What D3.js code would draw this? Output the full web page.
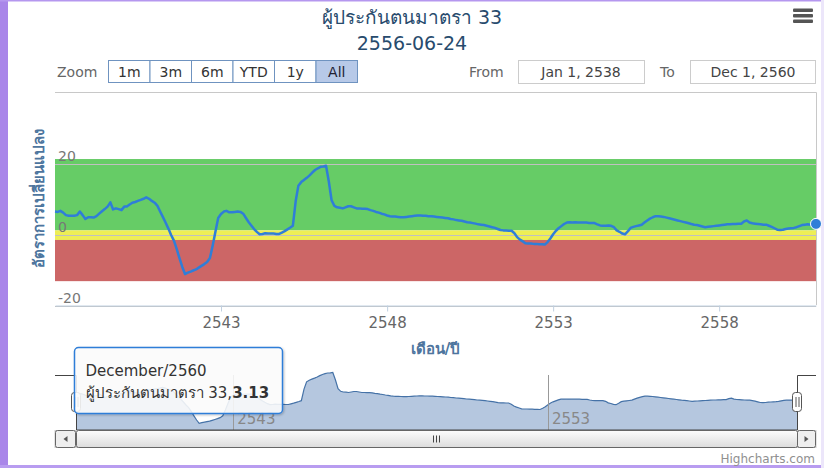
<!DOCTYPE html>
<html>
<head>
<meta charset="utf-8">
<script src="https://cdn.jsdelivr.net/npm/d3@7"></script>
<style>
  body { margin: 0; background: #fff; }
  svg { display: block; font-family: Tahoma, "Lucida Grande", "DejaVu Sans", sans-serif; }
  .xaxis text { font-size: 15px; fill: #666; }
</style>
</head>
<body>
<div id="chart"></div>
<script>
// monthly values, Jan 2538 .. Dec 2560 (Buddhist era)
var startYear = 2538;
var values = [
  6.6, 6.5, 6.8, 6.3, 5.6, 5.4, 5.4, 5.4, 5.6, 6.6, 5.6, 4.5,
  5.0, 5.0, 4.9, 5.3, 6.0, 6.7, 7.3, 8.0, 9.2, 7.2, 7.5, 7.3,
  7.0, 8.0, 8.0, 8.6, 9.1, 9.3, 9.6, 9.9, 10.2, 10.6, 10.2, 9.6,
  9.1, 8.2, 6.7, 5.1, 3.5, 1.8, 0.0, -1.6, -4.0, -6.5, -9.0, -11.0,
  -10.6, -10.3, -10.0, -9.7, -9.2, -8.7, -8.2, -7.6, -6.5, -3.0, 1.0, 4.8,
  5.9, 6.6, 6.8, 6.4, 6.4, 6.5, 6.6, 6.5, 6.0, 4.8, 3.6, 2.6,
  1.6, 0.8, 0.2, 0.3, 0.5, 0.4, 0.4, 0.4, 0.3, 0.3, 0.7, 1.1,
  1.6, 2.1, 2.6, 9.5, 13.9, 14.9, 15.5, 16.1, 16.8, 17.6, 18.3, 18.8,
  19.2, 19.3, 19.5, 15.0, 9.8, 8.2, 7.8, 7.7, 7.5, 7.8, 8.1, 8.1,
  7.8, 7.5, 7.5, 7.4, 7.4, 7.3, 7.0, 6.8, 6.5, 6.3, 6.0, 5.8,
  5.5, 5.3, 5.2, 5.2, 5.1, 5.0, 5.0, 5.1, 5.2, 5.3, 5.4, 5.5,
  5.5, 5.4, 5.4, 5.3, 5.3, 5.2, 5.1, 5.0, 4.9, 4.8, 4.7, 4.5,
  4.4, 4.2, 4.1, 4.0, 3.8, 3.6, 3.5, 3.35, 3.2, 3.0, 2.9, 2.8,
  2.6, 2.4, 2.2, 2.0, 1.7, 1.4, 1.3, 1.3, 1.2, 1.2, 0.5, -0.6,
  -1.3, -1.8, -2.3, -2.4, -2.4, -2.5, -2.5, -2.6, -2.6, -2.7, -2.0, -1.0,
  0.2, 1.2, 1.9, 2.5, 3.1, 3.5, 3.6, 3.5, 3.6, 3.5, 3.5, 3.5,
  3.5, 3.4, 3.4, 3.35, 3.0, 2.7, 2.6, 2.6, 2.7, 2.6, 2.2, 1.3,
  0.9, 0.4, 0.2, 1.0, 2.0, 2.3, 2.5, 2.7, 2.9, 3.5, 4.1, 4.6,
  5.0, 5.3, 5.3, 5.2, 5.1, 4.9, 4.7, 4.5, 4.3, 4.1, 3.9, 3.7,
  3.5, 3.3, 3.1, 2.9, 2.8, 2.6, 2.4, 2.2, 2.3, 2.4, 2.5, 2.6,
  2.7, 2.8, 2.9, 3.0, 3.0, 3.1, 3.1, 3.2, 3.2, 3.8, 4.1, 3.5,
  3.3, 3.2, 3.1, 3.0, 2.9, 2.9, 2.6, 2.3, 1.9, 1.5, 1.4, 1.5,
  1.7, 1.8, 1.9, 2.0, 2.2, 2.5, 2.8, 2.9, 3.0, 2.9, 3.0, 3.13
];
var yTicks = [-20, 0, 20];
var xTickYears = [2543, 2548, 2553, 2558];
var navTickYears = [2543, 2553];
var bandFrom = [1.3, -1.4, -13];
var bandTo = [21.4, 1.3, -1.4];
var bandColors = ["#66cc66", "#eeee55", "#cc6666"];
var zoomButtons = ["1m", "3m", "6m", "YTD", "1y", "All"];
var monthNames = ["January","February","March","April","May","June","July",
                  "August","September","October","November","December"];

var titleText = "ผู้ประกันตนมาตรา 33";
var subtitleText = "2556-06-24";
var yTitle = "อัตราการเปลี่ยนแปลง";
var xTitle = "เดือน/ปี";

// BE -> Gregorian date
function beDate(y, m) { return new Date(y - 543, m, 1); }

var data = values.map(function(v, i) {
  return { date: beDate(startYear + Math.floor(i / 12), i % 12), month: i % 12,
           year: startYear + Math.floor(i / 12), value: v };
});
var last = data[data.length - 1];

var W = 824, H = 468;
var plot = { left: 55, right: 816, top: 92, bottom: 305 };
var nav = { left: 76, right: 797, top: 375, bottom: 430 };

var svg = d3.select("#chart").append("svg")
    .attr("width", W).attr("height", H);

// page frame
svg.append("rect").attr("x", 0).attr("y", 0).attr("width", W).attr("height", H).attr("fill", "#fff");
svg.append("rect").attr("x", 0).attr("y", 0).attr("width", 8).attr("height", H).attr("fill", "#a986e9");
svg.append("rect").attr("x", 0).attr("y", 0).attr("width", W).attr("height", 1.5).attr("fill", "#b597ef");
svg.append("rect").attr("x", 0).attr("y", 465).attr("width", W).attr("height", 3).attr("fill", "#b89cf0");
svg.append("rect").attr("x", 821).attr("y", 0).attr("width", 3).attr("height", H).attr("fill", "#ece6fa");

var x = d3.scaleTime()
    .domain([data[0].date, last.date])
    .range([plot.left, plot.right]);
var y = d3.scaleLinear().domain([-20, 20]).range([306, 164]);

// title
svg.append("text").attr("x", 412).attr("y", 24).attr("text-anchor", "middle")
    .style("font-size", "19px").style("fill", "#274b6d").text(titleText);
svg.append("text").attr("x", 412).attr("y", 50).attr("text-anchor", "middle")
    .style("font-size", "19px").style("fill", "#274b6d").text(subtitleText);

// export menu icon
[10, 15.5, 21].forEach(function(yy) {
  svg.append("rect").attr("x", 793).attr("y", yy - 1.5).attr("width", 20).attr("height", 3.5)
      .attr("rx", 1).attr("fill", "#555");
});

// range selector
svg.append("text").attr("x", 57).attr("y", 77).style("font-size", "14px").style("fill", "#666").text("Zoom");
var bx = d3.scaleBand().domain(zoomButtons).range([108, 357]);
var btn = svg.selectAll("g.btn").data(zoomButtons).enter().append("g").attr("class", "btn");
btn.append("rect")
    .attr("x", function(d) { return bx(d) + 0.5; }).attr("y", 60.5)
    .attr("width", bx.bandwidth()).attr("height", 22)
    .attr("fill", function(d) { return d === "All" ? "#b7c9e8" : "#fff"; })
    .attr("stroke", "#6f93c0");
btn.append("text")
    .attr("x", function(d) { return bx(d) + bx.bandwidth() / 2 + 0.5; }).attr("y", 77)
    .attr("text-anchor", "middle").style("font-size", "14px")
    .style("fill", function(d) { return d === "All" ? "#223" : "#333"; })
    .text(function(d) { return d; });

svg.append("text").attr("x", 469).attr("y", 77).style("font-size", "14px").style("fill", "#666").text("From");
svg.append("rect").attr("x", 518.5).attr("y", 60.5).attr("width", 126).attr("height", 23)
    .attr("fill", "#fff").attr("stroke", "#ccc");
svg.append("text").attr("x", 581).attr("y", 77).attr("text-anchor", "middle")
    .style("font-size", "14px").style("fill", "#444").text("Jan 1, 2538");
svg.append("text").attr("x", 660).attr("y", 77).style("font-size", "14px").style("fill", "#666").text("To");
svg.append("rect").attr("x", 690.5).attr("y", 60.5).attr("width", 125).attr("height", 23)
    .attr("fill", "#fff").attr("stroke", "#ccc");
svg.append("text").attr("x", 753).attr("y", 77).attr("text-anchor", "middle")
    .style("font-size", "14px").style("fill", "#444").text("Dec 1, 2560");

// plot bands
svg.selectAll("rect.band").data(bandColors).enter().append("rect")
    .attr("class", "band")
    .attr("x", plot.left).attr("width", plot.right - plot.left)
    .attr("y", function(d, i) { return y(bandTo[i]); })
    .attr("height", function(d, i) { return y(bandFrom[i]) - y(bandTo[i]); })
    .attr("fill", function(d) { return d; });

// gridlines
svg.selectAll("line.grid").data(yTicks).enter().append("line")
    .attr("x1", plot.left).attr("x2", plot.right)
    .attr("y1", function(d) { return Math.round(y(d)) + 0.5; })
    .attr("y2", function(d) { return Math.round(y(d)) + 0.5; })
    .attr("stroke", "#c0c0c0").attr("stroke-width", 1);

svg.selectAll("text.ylab").data(yTicks).enter().append("text")
    .attr("x", 58).attr("y", function(d) { return y(d) - 3; })
    .style("font-size", "14px").style("fill", "#777")
    .text(function(d) { return d; });

// plot border (top, right)
svg.append("path")
    .attr("d", "M" + plot.left + "," + (plot.top + 0.5) + "H" + (plot.right + 0.5) + "V" + plot.bottom)
    .attr("fill", "none").attr("stroke", "#c8c8c8");

// x axis
var xAxis = d3.axisBottom(x)
    .tickValues(xTickYears.map(function(yr) { return beDate(yr, 0); }))
    .tickFormat(function(d) { return d.getFullYear() + 543; })
    .tickSize(6).tickSizeOuter(0);
var gx = svg.append("g").attr("class", "xaxis")
    .attr("transform", "translate(0," + (plot.bottom + 0.5) + ")").call(xAxis)
    .attr("font-size", null).attr("font-family", null);
gx.select(".domain").attr("stroke", "#c0d0e0");
gx.selectAll(".tick line").attr("stroke", "#c0d0e0");
gx.selectAll(".tick text").attr("y", 12).attr("fill", "#666");

svg.append("text").attr("x", (plot.left + plot.right) / 2).attr("y", 354).attr("text-anchor", "middle")
    .style("font-size", "15px").style("font-weight", "bold").style("fill", "#4d759e").text(xTitle);
svg.append("text").attr("transform", "translate(44," + ((plot.top + plot.bottom) / 2) + ") rotate(-90)")
    .attr("text-anchor", "middle")
    .style("font-size", "15px").style("font-weight", "bold").style("fill", "#4d759e").text(yTitle);

// main series
var line = d3.line().x(function(d) { return x(d.date); }).y(function(d) { return y(d.value); });
svg.append("path").datum(data)
    .attr("d", line).attr("fill", "none")
    .attr("stroke", "#2f7ed8").attr("stroke-width", 2.5).attr("stroke-linejoin", "round");
svg.append("circle").attr("cx", x(last.date)).attr("cy", y(last.value)).attr("r", 5.5)
    .attr("fill", "#2f7ed8").attr("stroke", "#fff").attr("stroke-width", 1);

// navigator
var nx = d3.scaleTime().domain([data[0].date, last.date]).range([nav.left, nav.right]);
var ny = d3.scaleLinear().domain([-15, 18]).range([nav.bottom, nav.top]);

var navArea = d3.area().x(function(d) { return nx(d.date); })
    .y0(nav.bottom).y1(function(d) { return ny(d.value); });
svg.append("path").datum(data).attr("d", navArea).attr("fill", "#b5c7df");
svg.append("path").datum(data)
    .attr("d", d3.line().x(function(d) { return nx(d.date); }).y(function(d) { return ny(d.value); }))
    .attr("fill", "none").attr("stroke", "#4572a7").attr("stroke-width", 1.2);

svg.selectAll("line.navgrid").data(navTickYears).enter().append("line")
    .attr("x1", function(d) { return Math.round(nx(beDate(d, 0))) + 0.5; })
    .attr("x2", function(d) { return Math.round(nx(beDate(d, 0))) + 0.5; })
    .attr("y1", nav.top).attr("y2", nav.bottom)
    .attr("stroke", "#999");
svg.selectAll("text.navlab").data(navTickYears).enter().append("text")
    .attr("x", function(d) { return nx(beDate(d, 0)) + 4; }).attr("y", 424)
    .style("font-size", "15px").style("fill", "#888")
    .text(function(d) { return d; });

// navigator outline
svg.append("path")
    .attr("d", "M" + plot.left + "," + (nav.top + 0.5) + "H" + (nav.left + 0.5) + "V" + nav.bottom +
               "H" + (nav.right + 0.5) + "V" + (nav.top + 0.5) + "H" + plot.right)
    .attr("fill", "none").attr("stroke", "#444");

// scrollbar
var sb = { top: 430.5, h: 17 };
function sbBtn(x0, w, dir) {
  svg.append("rect").attr("x", x0).attr("y", sb.top).attr("width", w).attr("height", sb.h)
      .attr("rx", 2).attr("fill", "#eee").attr("stroke", "#666");
  var cx = x0 + w / 2, cy = sb.top + sb.h / 2;
  svg.append("path")
      .attr("d", "M" + (cx + 2 * dir) + "," + (cy - 3) + "L" + (cx - 2 * dir) + "," + cy +
                 "L" + (cx + 2 * dir) + "," + (cy + 3) + "Z")
      .attr("fill", "#555");
}
svg.append("rect").attr("x", plot.left).attr("y", sb.top).attr("width", plot.right - plot.left)
    .attr("height", sb.h).attr("fill", "#f2f2f2").attr("stroke", "#ccc");
var grad = svg.append("defs").append("linearGradient").attr("id", "thumb")
    .attr("x1", 0).attr("y1", 0).attr("x2", 0).attr("y2", 1);
grad.append("stop").attr("offset", 0).attr("stop-color", "#fdfdfd");
grad.append("stop").attr("offset", 1).attr("stop-color", "#dcdcdc");
svg.append("rect").attr("x", nav.left + 0.5).attr("y", sb.top).attr("width", nav.right - nav.left)
    .attr("height", sb.h).attr("rx", 2).attr("fill", "url(#thumb)").attr("stroke", "#666");
[-3, 0, 3].forEach(function(dx) {
  svg.append("line").attr("x1", 436.5 + dx).attr("x2", 436.5 + dx)
      .attr("y1", sb.top + 5).attr("y2", sb.top + 12).attr("stroke", "#444");
});
sbBtn(plot.left + 0.5, 20, 1);
sbBtn(nav.right + 0.5, 18, -1);

// navigator handles
[nav.left, nav.right].forEach(function(hx) {
  svg.append("rect").attr("x", hx - 4.5).attr("y", 392.5).attr("width", 9).attr("height", 19)
      .attr("rx", 3).attr("fill", "#fff").attr("stroke", "#555");
  [-1.5, 1.5].forEach(function(dx) {
    svg.append("line").attr("x1", hx + dx + 0.5).attr("x2", hx + dx + 0.5)
        .attr("y1", 397).attr("y2", 407).attr("stroke", "#555");
  });
});

// tooltip
var tip = svg.append("g").attr("transform", "translate(74.5,347.5)");
var shadow = svg.select("defs").append("filter").attr("id", "tipshadow");
shadow.append("feDropShadow").attr("dx", 1).attr("dy", 1).attr("stdDeviation", 1.2)
    .attr("flood-color", "#000").attr("flood-opacity", 0.25);
tip.append("rect").attr("width", 208).attr("height", 66).attr("rx", 4)
    .attr("fill", "rgba(255,255,255,0.85)").attr("stroke", "#2f7ed8").attr("stroke-width", 1.5)
    .attr("filter", "url(#tipshadow)");
tip.append("text").attr("x", 11).attr("y", 28).style("font-size", "15px").style("fill", "#333")
    .text(monthNames[last.month] + "/" + last.year);
var t2 = tip.append("text").attr("x", 11).attr("y", 50).style("font-size", "15px").style("fill", "#333");
t2.append("tspan").text(titleText + ",");
t2.append("tspan").style("font-weight", "bold").text(last.value.toFixed(2));

// credits
svg.append("text").attr("x", 815).attr("y", 463).attr("text-anchor", "end")
    .style("font-size", "12px").style("fill", "#909090").text("Highcharts.com");
</script>
</body>
</html>
